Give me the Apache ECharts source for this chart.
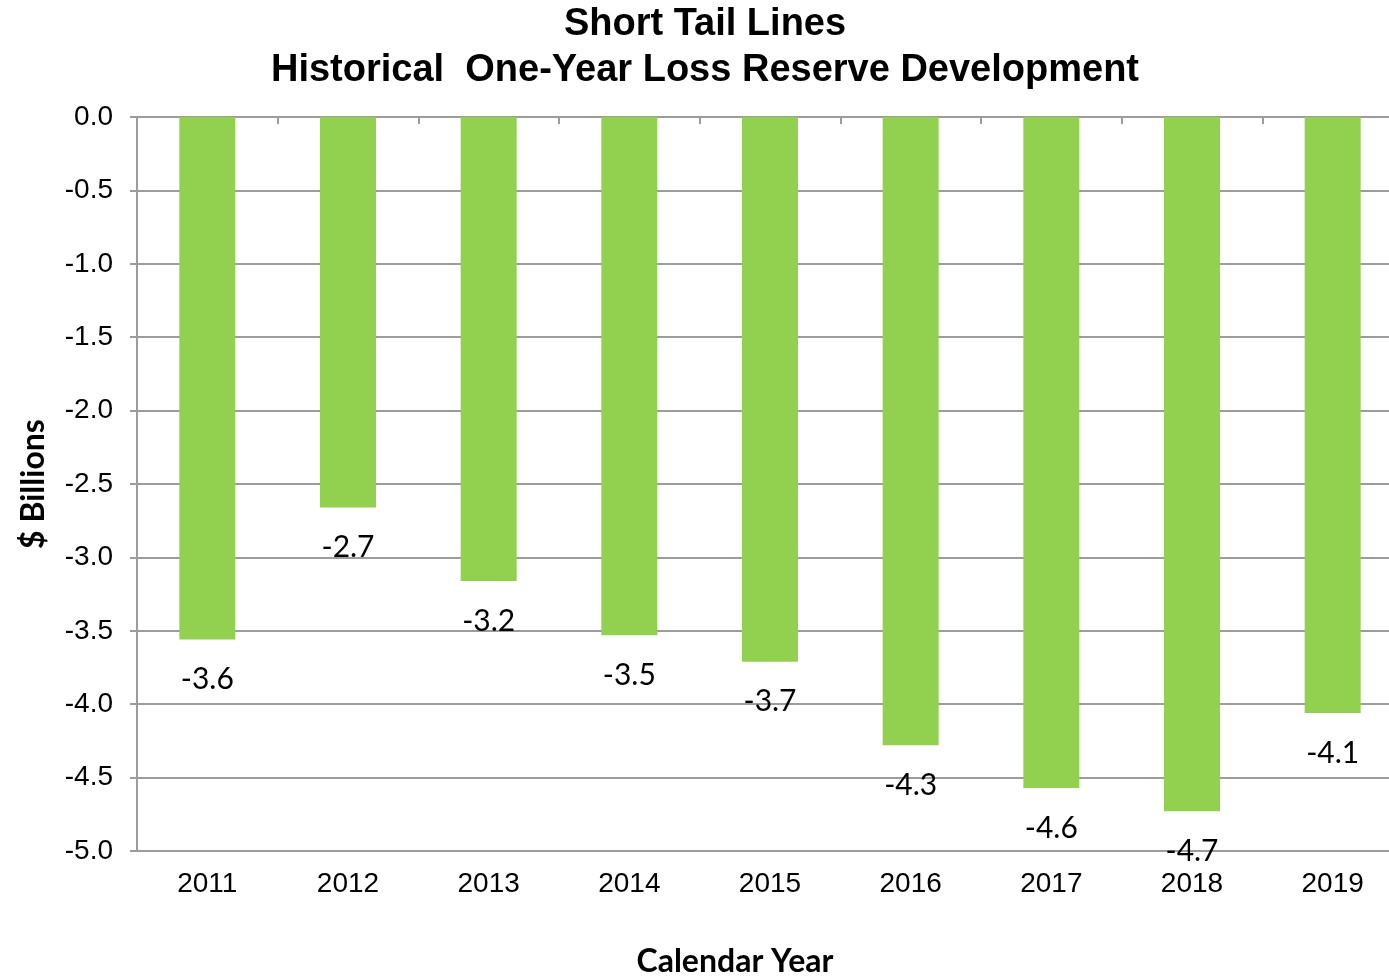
<!DOCTYPE html>
<html>
<head>
<meta charset="utf-8">
<script src="https://cdn.jsdelivr.net/npm/echarts@6/dist/echarts.min.js"></script>
<style>
  html, body { margin: 0; padding: 0; background: #fff; }
  #chart { width: 1389px; height: 977px; }
</style>
</head>
<body>
<div id="chart"></div>
<script>
// Calendar years and one-year reserve development ($ billions)
const years = ['2011', '2012', '2013', '2014', '2015', '2016', '2017', '2018', '2019'];
const development = [-3.56, -2.66, -3.16, -3.53, -3.71, -4.28, -4.57, -4.73, -4.06];

const chart = echarts.init(document.getElementById('chart'), null, { renderer: 'canvas' });
const gridColor = '#9c9c9c';

chart.setOption({
  animation: false,
  backgroundColor: '#ffffff',
  title: {
    text: 'Short Tail Lines\nHistorical  One-Year Loss Reserve Development',
    top: -3,
    left: 700,
    textAlign: 'center',
    textStyle: {
      fontFamily: 'Liberation Sans',
      fontWeight: 'bold',
      fontSize: 38,
      lineHeight: 46,
      color: '#000'
    }
  },
  grid: { left: 137, right: -14, top: 117, bottom: 126, containLabel: false, outerBoundsMode: 'none' },
  xAxis: [
    {
      // axis line drawn at zero (top of plot) with inward ticks
      type: 'category',
      data: years,
      position: 'top',
      axisLine: { show: true, lineStyle: { color: gridColor, width: 2 } },
      axisTick: { show: true, inside: true, length: 7, lineStyle: { color: gridColor, width: 2 } },
      axisLabel: { show: false },
      splitLine: { show: false }
    },
    {
      // year labels placed below the plot
      type: 'category',
      data: years,
      position: 'bottom',
      name: 'Calendar Year',
      nameLocation: 'middle',
      nameGap: 95,
      nameTextStyle: { fontFamily: 'Lato', fontWeight: 'bold', fontSize: 32, color: '#000', padding: [0, 70, 0, 0] },
      axisLine: { show: false },
      axisTick: { show: false },
      axisLabel: { fontFamily: 'Liberation Sans', fontSize: 28, color: '#000', margin: 19 }
    }
  ],
  yAxis: {
    type: 'value',
    min: -5,
    max: 0,
    interval: 0.5,
    name: '$ Billions',
    nameLocation: 'middle',
    nameGap: 87,
    nameRotate: 90,
    nameTextStyle: { fontFamily: 'Lato', fontWeight: 'bold', fontSize: 32, color: '#000' },
    axisLine: { show: true, lineStyle: { color: gridColor, width: 2 } },
    axisTick: { show: true, length: 7, lineStyle: { color: gridColor, width: 2 } },
    axisLabel: {
      fontFamily: 'Liberation Sans',
      fontSize: 28,
      color: '#000',
      margin: 24,
      formatter: v => v.toFixed(1)
    },
    splitLine: { show: true, lineStyle: { color: gridColor, width: 2 } }
  },
  series: [{
    type: 'bar',
    data: development,
    xAxisIndex: 0,
    barWidth: 56,
    itemStyle: { color: '#92D050' },
    label: {
      show: true,
      position: 'bottom',
      distance: 25,
      fontFamily: 'Lato',
      fontSize: 30,
      color: '#000',
      formatter: p => p.value.toFixed(1)
    }
  }]
});
</script>
</body>
</html>
